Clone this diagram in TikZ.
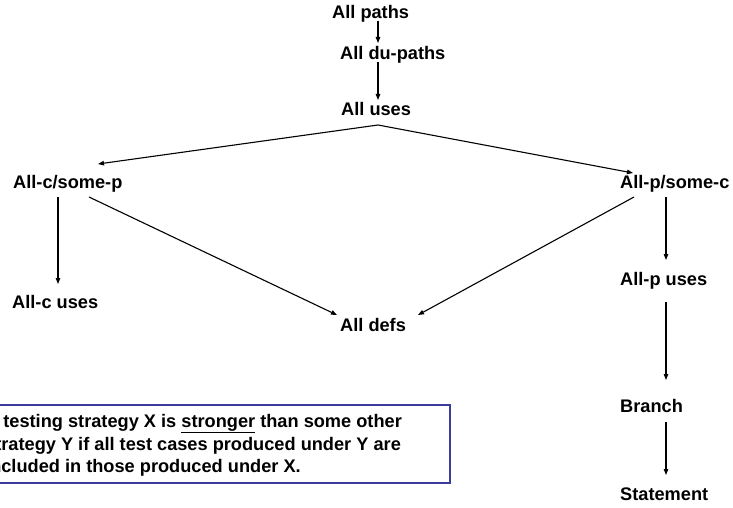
\documentclass[tikz,border=0pt]{standalone}
\usepackage{fontspec}
\setmainfont{Liberation Sans}
\usetikzlibrary{arrows.meta,calc}
\definecolor{noteblue}{RGB}{60,60,158}
\begin{document}
\begin{tikzpicture}[x=1pt,y=-1pt,
  lbl/.style={anchor=base west,inner sep=0pt,font=\fontsize{18.2}{22}\selectfont\bfseries},
  arr/.style={line width=1.1pt,-{Triangle[length=6pt,width=4.5pt]}},
  ln/.style={line width=1.1pt}]
\useasboundingbox (0,0) rectangle (733,508);
\clip (0,0) rectangle (733,508);

% coverage criteria
\node[lbl] (paths)     at (332,19)  {All paths};
\node[lbl] (dupaths)   at (340,60)  {All du-paths};
\node[lbl] (uses)      at (341,116) {All uses};
\node[lbl] (csomep)    at (13,188)  {All-c/some-p};
\node[lbl] (psomec)    at (620,188) {All-p/some-c};
\node[lbl] (cuses)     at (12,308)  {All-c uses};
\node[lbl] (puses)     at (620,285) {All-p uses};
\node[lbl] (defs)      at (340,331) {All defs};
\node[lbl] (branch)    at (620,412) {Branch};
\node[lbl] (statement) at (620,500) {Statement};

% subsumption arrows
\draw[arr] ($(paths.base west)+(46,2)$) -- ($(dupaths.base west)+(38,-17)$);
\draw[arr] ($(dupaths.base west)+(38,2)$) -- ($(uses.base west)+(37,-16)$);
\draw[arr] ($(uses.base west)+(37,9)$) -- ($(csomep.base west)+(85,-24)$);
\draw[arr] ($(uses.base west)+(37,9)$) -- ($(psomec.base west)+(13,-15)$);
\draw[arr] ($(csomep.base west)+(45,9)$) -- ($(cuses.base west)+(46,-24)$);
\draw[arr] ($(csomep.base west)+(76,9)$) -- ($(defs.base west)+(-3,-16)$);
\draw[arr] ($(psomec.base west)+(14,9)$) -- ($(defs.base west)+(78,-16)$);
\draw[arr] ($(psomec.base west)+(46,9)$) -- ($(puses.base west)+(46,-25)$);
\draw[arr] ($(puses.base west)+(46,17)$) -- ($(branch.base west)+(46,-32)$);
\draw[arr] ($(branch.base west)+(46,10)$) -- ($(statement.base west)+(46,-25)$);

% definition note
\draw[noteblue,line width=1.3pt] (-30,405) rectangle (450,483);
\node[lbl,anchor=base west] (l1) at (-15,427) {A testing strategy X is \underline{stronger} than some other};
\node[lbl,anchor=base west] (l2) at (-15,450) {strategy Y if all test cases produced under Y are};
\node[lbl,anchor=base west] (l3) at (-15,472.5) {included in those produced under X.};
\end{tikzpicture}
\end{document}
